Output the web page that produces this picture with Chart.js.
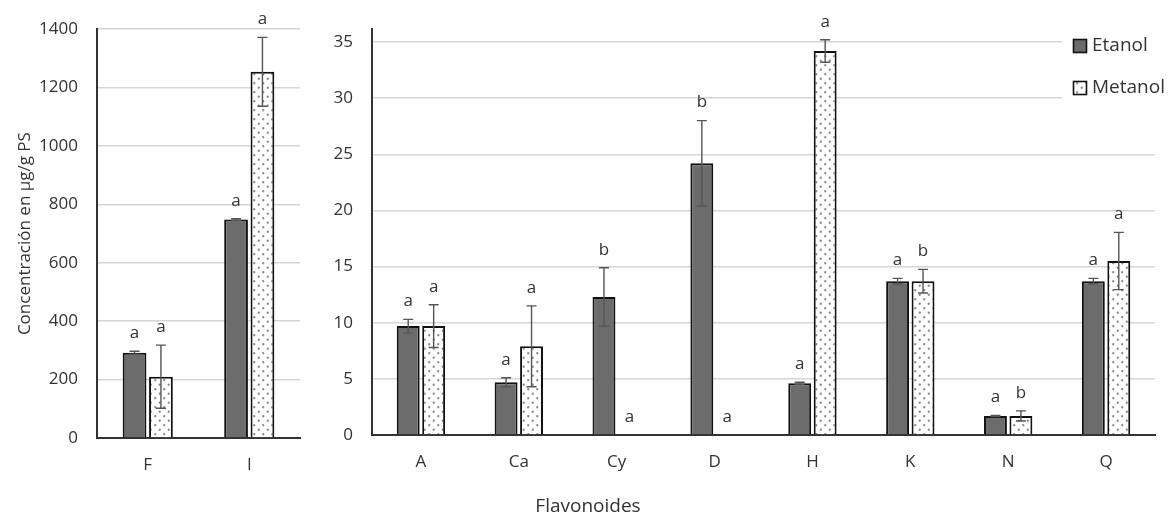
<!DOCTYPE html>
<html><head><meta charset="utf-8">
<script src="https://cdn.jsdelivr.net/npm/chart.js@4.4.1/dist/chart.umd.min.js"></script>
<style>
html,body{margin:0;padding:0;background:#fff;}
#wrap{position:relative;width:1173px;height:517px;overflow:hidden;background:#fff;}
#cL{position:absolute;left:0;top:0;width:310px;height:517px;}
#cR{position:absolute;left:310px;top:0;width:863px;height:517px;}
</style></head><body>
<div id="wrap"><canvas id="cL" width="310" height="517"></canvas><canvas id="cR" width="863" height="517"></canvas></div>
<script>
// ---- Data ----
const categoriesLeft = ['F', 'I'];
const etanolLeft = [292, 748];
const etanolLeftErr = [5, 3];
const metanolLeft = [210, 1254];
const metanolLeftErr = [108, 118];
const etanolLeftLetters = ['a', 'a'];
const metanolLeftLetters = ['a', 'a'];
const yTicksLeft = [0, 200, 400, 600, 800, 1000, 1200, 1400];

const categoriesRight = ['A', 'Ca', 'Cy', 'D', 'H', 'K', 'N', 'Q'];
const etanolRight = [9.7, 4.7, 12.3, 24.2, 4.6, 13.7, 1.7, 13.7];
const etanolRightErr = [0.6, 0.4, 2.6, 3.8, 0.1, 0.25, 0.05, 0.25];
const metanolRight = [9.7, 7.9, 0, 0, 34.2, 13.7, 1.7, 15.5];
const metanolRightErr = [1.9, 3.6, 0, 0, 1.0, 1.05, 0.45, 2.55];
const etanolRightLetters = ['a', 'a', 'b', 'b', 'a', 'a', 'a', 'a'];
const metanolRightLetters = ['a', 'a', 'a', 'a', 'a', 'b', 'b', 'a'];
const yTicksRight = [0, 5, 10, 15, 20, 25, 30, 35];

const seriesNames = ['Etanol', 'Metanol'];
const yTitle = 'Concentración en µg/g PS';
const xTitle = 'Flavonoides';

// ---- Styles ----
const FONT = '"Open Sans", "DejaVu Sans", sans-serif';
const TXT = '#333333';
const ETANOL_FILL = '#6c6c6c';
const BORDER = '#111111';
Chart.defaults.font.family = FONT;
Chart.defaults.color = TXT;

function makeDots() {
  const c = document.createElement('canvas');
  c.width = 9; c.height = 9;
  const g = c.getContext('2d');
  g.fillStyle = '#fff'; g.fillRect(0, 0, 9, 9);
  g.fillStyle = '#8a8a8a';
  g.beginPath(); g.arc(2.25, 2.25, 1.15, 0, Math.PI * 2); g.fill();
  g.beginPath(); g.arc(6.75, 6.75, 1.15, 0, Math.PI * 2); g.fill();
  return c;
}
const dotCanvas = makeDots();

const errPlugin = {
  id: 'errs',
  afterDatasetsDraw(chart) {
    const ctx = chart.ctx, ys = chart.scales.y;
    chart.data.datasets.forEach((ds, d) => {
      const meta = chart.getDatasetMeta(d);
      meta.data.forEach((bar, i) => {
        const v = ds.data[i] || 0, e = ds.errors[i] || 0;
        const x = bar.x;
        const yt = ys.getPixelForValue(v + e), yb = ys.getPixelForValue(v - e);
        if (e > 0) {
          ctx.save();
          ctx.strokeStyle = '#555555'; ctx.lineWidth = 1.4;
          ctx.beginPath();
          ctx.moveTo(x, yt); ctx.lineTo(x, yb);
          ctx.moveTo(x - 5, yt); ctx.lineTo(x + 5, yt);
          ctx.moveTo(x - 5, yb); ctx.lineTo(x + 5, yb);
          ctx.stroke();
          ctx.restore();
        }
        ctx.save();
        ctx.fillStyle = TXT; ctx.font = '17px ' + FONT;
        ctx.textAlign = 'center'; ctx.textBaseline = 'middle';
        ctx.fillText(ds.letters[i], x, yt - 18);
        ctx.restore();
      });
    });
  }
};

function makeDatasets(ctx, et, etErr, etL, me, meErr, meL) {
  const pat = ctx.createPattern(dotCanvas, 'repeat');
  return [
    { label: seriesNames[0], data: et, errors: etErr, letters: etL,
      backgroundColor: ETANOL_FILL, borderColor: BORDER, borderWidth: 2,
      barPercentage: 0.9, categoryPercentage: 0.52 },
    { label: seriesNames[1], data: me, errors: meErr, letters: meL,
      backgroundColor: pat, borderColor: BORDER, borderWidth: 2,
      barPercentage: 0.9, categoryPercentage: 0.52 }
  ];
}

function baseOptions(yMax, step, ticksList, yWidth, xHeight, pad, showTitle) {
  return {
    responsive: false, animation: false, devicePixelRatio: 1,
    layout: { padding: pad },
    plugins: { legend: { display: false }, tooltip: { enabled: false } },
    scales: {
      x: {
        grid: { display: false, drawTicks: false },
        border: { display: true, color: '#333333', width: 2 },
        ticks: { padding: 17, font: { size: 17 }, color: TXT },
        afterFit(s) { s.height = xHeight; }
      },
      y: {
        min: 0, max: yMax,
        grid: { color: '#d6d6d6', lineWidth: 1.6, drawTicks: false },
        border: { display: true, color: '#333333', width: 2 },
        ticks: { stepSize: step, padding: 19, font: { size: 17 }, color: TXT,
                 callback: (v) => String(v) },
        afterBuildTicks(s) { s.ticks = ticksList.map(v => ({ value: v })); },
        title: { display: showTitle, text: yTitle, font: { size: 17 }, color: TXT, padding: { top: 15, bottom: 0 } },
        afterFit(s) { s.width = yWidth; }
      }
    }
  };
}

// Left chart
const ctxL = document.getElementById('cL').getContext('2d');
new Chart(ctxL, {
  type: 'bar',
  data: { labels: categoriesLeft,
    datasets: makeDatasets(ctxL, etanolLeft, etanolLeftErr, etanolLeftLetters, metanolLeft, metanolLeftErr, metanolLeftLetters) },
  options: baseOptions(1400, 200, yTicksLeft, 97, 79, { top: 26, left: 0, right: 10, bottom: 0 }, true),
  plugins: [errPlugin]
});

// Right chart
const legendPlugin = {
  id: 'customLegend',
  afterDraw(chart) {
    const ctx = chart.ctx;
    ctx.save();
    ctx.fillStyle = '#fff';
    ctx.fillRect(752, 28, 111, 80);
    const items = [
      { y: 46, fill: ETANOL_FILL },
      { y: 88, fill: ctx.createPattern(dotCanvas, 'repeat') }
    ];
    items.forEach((it, k) => {
      ctx.fillStyle = it.fill;
      ctx.fillRect(763, it.y - 7, 14, 14);
      ctx.strokeStyle = BORDER; ctx.lineWidth = 1.6;
      ctx.strokeRect(763.5, it.y - 6.5, 13, 13);
      ctx.fillStyle = TXT; ctx.font = '19px ' + FONT;
      ctx.textAlign = 'left'; ctx.textBaseline = 'middle';
      ctx.fillText(seriesNames[k], 782, it.y);
    });
    // x-axis title
    ctx.fillStyle = TXT; ctx.font = '19px ' + FONT;
    ctx.textAlign = 'center'; ctx.textBaseline = 'middle';
    ctx.fillText(xTitle, 278, 507);
    ctx.restore();
  }
};

const ctxR = document.getElementById('cR').getContext('2d');
const rightMax = 35 * 410 / 397;
new Chart(ctxR, {
  type: 'bar',
  data: { labels: categoriesRight,
    datasets: makeDatasets(ctxR, etanolRight, etanolRightErr, etanolRightLetters, metanolRight, metanolRightErr, metanolRightLetters) },
  options: baseOptions(rightMax, 5, yTicksRight, 62, 82, { top: 25, left: 0, right: 18, bottom: 0 }, false),
  plugins: [errPlugin, legendPlugin]
});
</script>
</body></html>
